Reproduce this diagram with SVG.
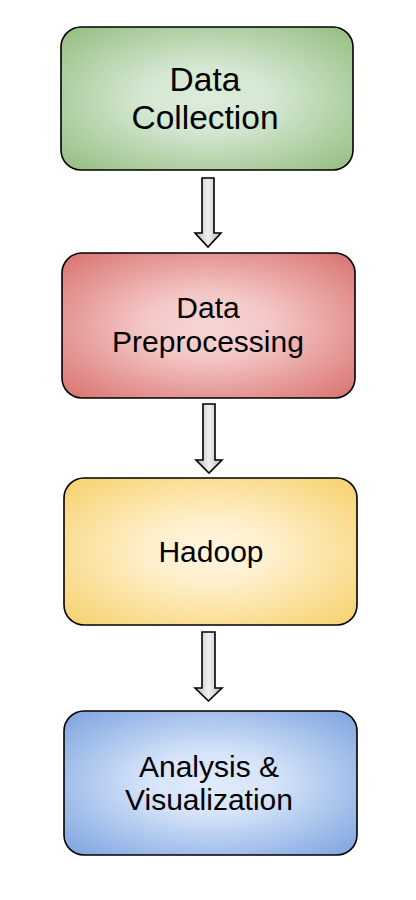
<svg xmlns="http://www.w3.org/2000/svg" width="416" height="900" viewBox="0 0 416 900">
<style>
.box{stroke:#000;stroke-width:1.6}
.lbl{font-family:"Liberation Sans",Arial,sans-serif;fill:#000;text-anchor:middle}
.arr{fill:url(#gGray);stroke:#000;stroke-width:1.6;stroke-linejoin:miter}
</style>
<defs>
<radialGradient id="gGreen" cx="50%" cy="50%" r="71%"><stop offset="0" stop-color="#dcecd8"/><stop offset="0.3" stop-color="#d5e8d4"/><stop offset="1" stop-color="#93bc7e"/></radialGradient>
<radialGradient id="gRed" cx="50%" cy="50%" r="71%"><stop offset="0" stop-color="#f7d6d6"/><stop offset="0.3" stop-color="#f4c8c7"/><stop offset="1" stop-color="#d8706d"/></radialGradient>
<radialGradient id="gYellow" cx="50%" cy="50%" r="71%"><stop offset="0" stop-color="#fff6e2"/><stop offset="0.3" stop-color="#fff0cc"/><stop offset="1" stop-color="#f6d06a"/></radialGradient>
<radialGradient id="gBlue" cx="50%" cy="50%" r="71%"><stop offset="0" stop-color="#e0ebfb"/><stop offset="0.3" stop-color="#d6e4fa"/><stop offset="1" stop-color="#7aa2de"/></radialGradient>
<linearGradient id="gGray" x1="0" y1="0" x2="1" y2="0"><stop offset="0" stop-color="#b8b8b8"/><stop offset="0.5" stop-color="#f0f0f0"/><stop offset="1" stop-color="#b8b8b8"/></linearGradient>
</defs>
<g id="connectors">
<polygon class="arr" points="202,178 214,178 214,233 221,233 208,247 195,233 202,233"/>
<polygon class="arr" points="203,404 215,404 215,460 222,460 209,473 196,460 203,460"/>
<polygon class="arr" points="202,632 215,632 215,688 222,688 208.5,701 195,688 202,688"/>
</g>
<g id="node-data-collection">
<rect class="box" x="61" y="27" width="292" height="143" rx="20" fill="url(#gGreen)"/>
<text class="lbl" x="205" y="91" font-size="33.5">Data</text>
<text class="lbl" x="205" y="129" font-size="33.5">Collection</text>
</g>
<g id="node-data-preprocessing">
<rect class="box" x="62" y="253" width="293" height="145" rx="20" fill="url(#gRed)"/>
<text class="lbl" x="208" y="318" font-size="30">Data</text>
<text class="lbl" x="208" y="352" font-size="30">Preprocessing</text>
</g>
<g id="node-hadoop">
<rect class="box" x="64" y="478" width="293" height="147" rx="20" fill="url(#gYellow)"/>
<text class="lbl" x="211" y="562" font-size="30">Hadoop</text>
</g>
<g id="node-analysis">
<rect class="box" x="64" y="711" width="293" height="144" rx="20" fill="url(#gBlue)"/>
<text class="lbl" x="209" y="777" font-size="30">Analysis &amp;</text>
<text class="lbl" x="209" y="810" font-size="30">Visualization</text>
</g>
</svg>
